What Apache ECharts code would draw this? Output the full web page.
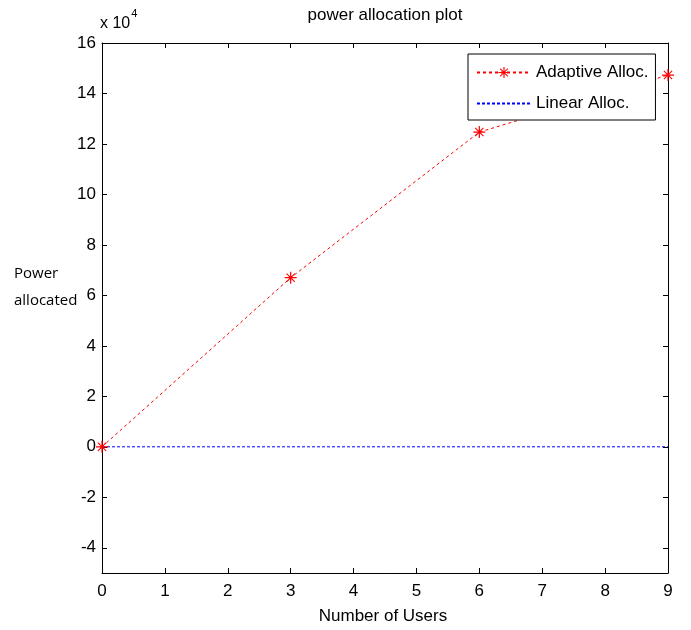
<!DOCTYPE html>
<html>
<head>
<meta charset="utf-8">
<script src="https://cdn.jsdelivr.net/npm/echarts@6/dist/echarts.min.js"></script>
<style>
  html, body { margin: 0; padding: 0; background: #fff; }
  #chart { width: 691px; height: 630px; }
</style>
</head>
<body>
<div id="chart"></div>
<script>
// values in units of 1e4
const users = [0, 3, 6, 9]
const adaptive = [0, 6.7, 12.47, 14.73]
const linearX = [0, 9]
const linear = [0, 0]
const yTicks = [-4, -2, 0, 2, 4, 6, 8, 10, 12, 14, 16]

// asterisk marker, like matlab '*'
const STAR = 'path://M-0.8,-8 L0.8,-8 L0.8,8 L-0.8,8 Z M-8,-0.8 L8,-0.8 L8,0.8 L-8,0.8 Z ' +
  'M-6,-5 L-5,-6 L6,5 L5,6 Z M5,-6 L6,-5 L-5,6 L-6,5 Z'

const FONT = 'Liberation Sans, Arial, sans-serif'
const chart = echarts.init(document.getElementById('chart'))

const axisBase = {
  axisLine: { show: true, onZero: false, lineStyle: { color: '#000', width: 1 } },
  axisTick: { show: true, inside: true, length: 5, lineStyle: { color: '#000' } },
  splitLine: { show: false }
}

chart.setOption({
  animation: false,
  backgroundColor: '#fff',
  grid: { left: 102, right: 23, top: 43, bottom: 57 },
  graphic: [
    { type: 'text', x: 385, y: 7, style: { text: 'power allocation plot', fontFamily: FONT, fontSize: 17, fill: '#000', align: 'center' } },
    {
      type: 'text', left: 100, top: 8,
      style: {
        text: '{a|x 10}{b|4}', fontFamily: FONT,
        rich: {
          a: { fontSize: 16, fontFamily: FONT, fill: '#000', padding: [8, 0, 0, 0] },
          b: { fontSize: 11, fontFamily: FONT, fill: '#000', verticalAlign: 'top', padding: [0, 0, 8, 1] }
        }
      }
    },
    { type: 'text', left: 14, top: 260, style: { text: 'Power\nallocated', fontFamily: 'Open Sans, sans-serif', fontSize: 15, lineHeight: 27, fill: '#000' } },
    { type: 'text', x: 383, y: 608, style: { text: 'Number of Users', fontFamily: FONT, fontSize: 17, fill: '#000', align: 'center' } }
  ],
  legend: {
    left: 468, top: 54,
    orient: 'vertical',
    backgroundColor: '#fff',
    borderColor: '#000',
    borderWidth: 1,
    padding: [10, 7, 8, 8],
    itemWidth: 54,
    itemHeight: 14,
    itemGap: 14,
    textStyle: { fontFamily: FONT, fontSize: 17, color: '#000' },
    data: ['Adaptive Alloc.', { name: 'Linear Alloc.', itemStyle: { opacity: 0 } }]
  },
  xAxis: [
    Object.assign({}, axisBase, {
      type: 'value', min: 0, max: 9, interval: 1,
      axisLabel: { color: '#000', fontFamily: FONT, fontSize: 17, margin: 10 }
    }),
    Object.assign({}, axisBase, {
      type: 'value', position: 'top', min: 0, max: 9, interval: 1,
      axisLabel: { show: false }
    })
  ],
  yAxis: [
    Object.assign({}, axisBase, {
      type: 'value', min: -5, max: 16,
      axisTick: Object.assign({}, axisBase.axisTick, { customValues: yTicks }),
      axisLabel: { color: '#000', fontFamily: FONT, fontSize: 17, margin: 6, customValues: yTicks }
    }),
    Object.assign({}, axisBase, {
      type: 'value', position: 'right', min: -5, max: 16,
      axisTick: Object.assign({}, axisBase.axisTick, { customValues: yTicks }),
      axisLabel: { show: false, customValues: yTicks }
    })
  ],
  series: [
    {
      name: 'Linear Alloc.',
      type: 'line',
      data: linearX.map((x, i) => [x, linear[i]]),
      symbol: 'none',
      lineStyle: { color: '#0000ff', width: 1, type: [3, 2] },
      itemStyle: { color: '#0000ff' },
      z: 2
    },
    {
      name: 'Adaptive Alloc.',
      type: 'line',
      data: users.map((x, i) => [x, adaptive[i]]),
      symbol: STAR,
      symbolSize: 12,
      clip: false,
      lineStyle: { color: '#ff0000', width: 1, type: [3, 3] },
      itemStyle: { color: '#ff0000' },
      z: 3
    }
  ]
})
</script>
</body>
</html>
